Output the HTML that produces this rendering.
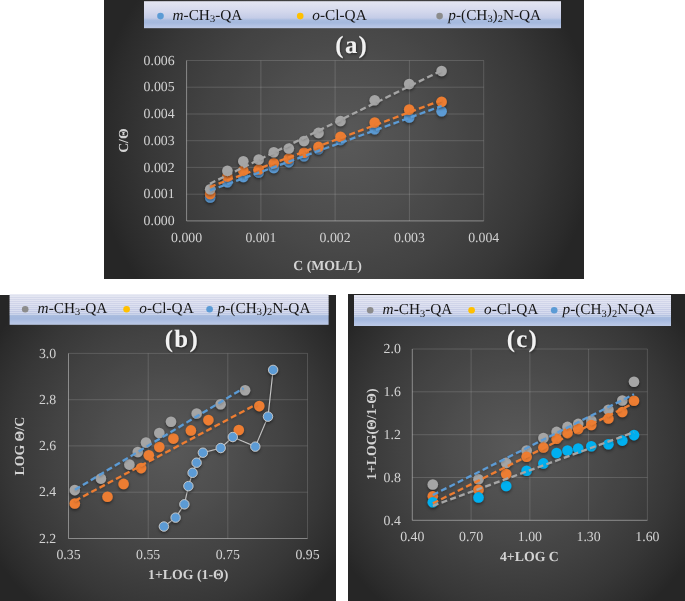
<!DOCTYPE html>
<html><head><meta charset="utf-8"><title>chart</title>
<style>
html,body{margin:0;padding:0;background:#fff;}
body{width:685px;height:601px;position:relative;overflow:hidden;font-family:"Liberation Serif",serif;}
.p{position:absolute;}
#pa{left:104px;top:0;width:480px;height:279px;background:radial-gradient(circle farthest-corner at 50% 50%,rgb(89,89,89) 0%,rgb(87,87,87) 5%,rgb(85,85,85) 10%,rgb(83,83,83) 15%,rgb(81,81,81) 20%,rgb(79,79,79) 25%,rgb(77,77,77) 30%,rgb(74,74,74) 35%,rgb(72,72,72) 40%,rgb(69,69,69) 45%,rgb(67,67,67) 50%,rgb(64,64,64) 55%,rgb(61,61,61) 60%,rgb(58,58,58) 65%,rgb(55,55,55) 70%,rgb(51,51,51) 75%,rgb(47,47,47) 80%,rgb(43,43,43) 85%,rgb(38,38,38) 90%,rgb(38,38,38) 95%,rgb(38,38,38) 100%);}
#pb{left:0;top:295px;width:336px;height:306px;background:radial-gradient(circle farthest-corner at 50% 50%,rgb(89,89,89) 0%,rgb(87,87,87) 5%,rgb(85,85,85) 10%,rgb(83,83,83) 15%,rgb(81,81,81) 20%,rgb(79,79,79) 25%,rgb(77,77,77) 30%,rgb(74,74,74) 35%,rgb(72,72,72) 40%,rgb(69,69,69) 45%,rgb(67,67,67) 50%,rgb(64,64,64) 55%,rgb(61,61,61) 60%,rgb(58,58,58) 65%,rgb(55,55,55) 70%,rgb(51,51,51) 75%,rgb(47,47,47) 80%,rgb(43,43,43) 85%,rgb(38,38,38) 90%,rgb(38,38,38) 95%,rgb(38,38,38) 100%);}
#pc{left:348px;top:294px;width:337px;height:307px;background:radial-gradient(circle farthest-corner at 50% 50%,rgb(89,89,89) 0%,rgb(87,87,87) 5%,rgb(85,85,85) 10%,rgb(83,83,83) 15%,rgb(81,81,81) 20%,rgb(79,79,79) 25%,rgb(77,77,77) 30%,rgb(74,74,74) 35%,rgb(72,72,72) 40%,rgb(69,69,69) 45%,rgb(67,67,67) 50%,rgb(64,64,64) 55%,rgb(61,61,61) 60%,rgb(58,58,58) 65%,rgb(55,55,55) 70%,rgb(51,51,51) 75%,rgb(47,47,47) 80%,rgb(43,43,43) 85%,rgb(38,38,38) 90%,rgb(38,38,38) 95%,rgb(38,38,38) 100%);}
svg{position:absolute;left:0;top:0;opacity:0.999;}
</style></head><body>
<div class="p" id="pa"></div><div class="p" id="pb"></div><div class="p" id="pc"></div>
<svg width="685" height="601" viewBox="0 0 685 601">
<defs>
<filter id="sh" filterUnits="userSpaceOnUse" x="0" y="0" width="685" height="601"><feDropShadow dx="0" dy="1.6" stdDeviation="1.4" flood-color="#000" flood-opacity="0.45"/></filter>
<filter id="sh2" filterUnits="userSpaceOnUse" x="0" y="0" width="685" height="601"><feDropShadow dx="0" dy="1.2" stdDeviation="1.2" flood-color="#000" flood-opacity="0.22"/></filter>
<pattern id="st" width="8" height="2.04" patternUnits="userSpaceOnUse"><rect width="8" height="1" fill="#fff" opacity="0.28"/><rect y="1" width="8" height="1.04" fill="#5a6a9a" opacity="0.07"/></pattern>
<filter id="tsh" filterUnits="userSpaceOnUse" x="0" y="0" width="685" height="601"><feDropShadow dx="0.8" dy="1.2" stdDeviation="1" flood-color="#000" flood-opacity="0.45"/></filter>
<linearGradient id="lg" x1="0" y1="0" x2="0" y2="1"><stop offset="0" stop-color="#e4e6f2"/><stop offset="0.35" stop-color="#d5d9ed"/><stop offset="0.62" stop-color="#c4cce7"/><stop offset="0.70" stop-color="#a9bcdf"/><stop offset="0.80" stop-color="#a5b9de"/><stop offset="0.9" stop-color="#b1c1e3"/><stop offset="1" stop-color="#bcc9e6"/></linearGradient>
<linearGradient id="lg2" x1="0" y1="0" x2="0" y2="1"><stop offset="0" stop-color="#e4e6f2"/><stop offset="0.35" stop-color="#d5d9ed"/><stop offset="0.62" stop-color="#c4cce7"/><stop offset="0.70" stop-color="#a9bcdf"/><stop offset="0.80" stop-color="#a5b9de"/><stop offset="0.9" stop-color="#b1c1e3"/><stop offset="1" stop-color="#bcc9e6"/></linearGradient>
</defs>
<g stroke="rgba(255,255,255,0.15)" stroke-width="1"><line x1="260.9" y1="60.5" x2="260.9" y2="220.9"/><line x1="335.1" y1="60.5" x2="335.1" y2="220.9"/><line x1="409.4" y1="60.5" x2="409.4" y2="220.9"/><line x1="483.7" y1="60.5" x2="483.7" y2="220.9"/><line x1="186.6" y1="60.5" x2="483.7" y2="60.5"/><line x1="186.6" y1="87.2" x2="483.7" y2="87.2"/><line x1="186.6" y1="114.0" x2="483.7" y2="114.0"/><line x1="186.6" y1="140.7" x2="483.7" y2="140.7"/><line x1="186.6" y1="167.4" x2="483.7" y2="167.4"/><line x1="186.6" y1="194.2" x2="483.7" y2="194.2"/></g><g stroke="rgba(255,255,255,0.4)" stroke-width="1"><line x1="186.6" y1="60.5" x2="186.6" y2="220.9"/><line x1="186.6" y1="220.9" x2="483.7" y2="220.9"/></g><g font-family="Liberation Serif, serif" text-rendering="geometricPrecision" font-size="13.8" fill="#d3d3d3"><text x="186.6" y="241.5" text-anchor="middle">0.000</text><text x="260.9" y="241.5" text-anchor="middle">0.001</text><text x="335.1" y="241.5" text-anchor="middle">0.002</text><text x="409.4" y="241.5" text-anchor="middle">0.003</text><text x="483.7" y="241.5" text-anchor="middle">0.004</text><text x="174.6" y="64.7" text-anchor="end">0.006</text><text x="174.6" y="91.4" text-anchor="end">0.005</text><text x="174.6" y="118.2" text-anchor="end">0.004</text><text x="174.6" y="144.9" text-anchor="end">0.003</text><text x="174.6" y="171.6" text-anchor="end">0.002</text><text x="174.6" y="198.3" text-anchor="end">0.001</text><text x="174.6" y="225.1" text-anchor="end">0.000</text></g><g fill="#5b9bd5" filter="url(#sh)"><circle cx="210.2" cy="197.5" r="5.3"/><circle cx="227.4" cy="182.2" r="5.3"/><circle cx="243.3" cy="177.0" r="5.3"/><circle cx="258.7" cy="172.5" r="5.3"/><circle cx="273.8" cy="167.9" r="5.3"/><circle cx="288.8" cy="162.1" r="5.3"/><circle cx="304.0" cy="156.2" r="5.3"/><circle cx="318.5" cy="149.2" r="5.3"/><circle cx="340.5" cy="139.9" r="5.3"/><circle cx="374.7" cy="129.2" r="5.3"/><circle cx="409.2" cy="117.4" r="5.3"/><circle cx="441.6" cy="111.3" r="5.3"/></g><g fill="#ed7d31" filter="url(#sh)"><circle cx="210.2" cy="194.0" r="5.3"/><circle cx="227.4" cy="176.5" r="5.3"/><circle cx="243.3" cy="170.6" r="5.3"/><circle cx="258.7" cy="169.5" r="5.3"/><circle cx="273.8" cy="163.2" r="5.3"/><circle cx="288.8" cy="158.6" r="5.3"/><circle cx="304.0" cy="152.7" r="5.3"/><circle cx="318.5" cy="146.9" r="5.3"/><circle cx="340.5" cy="136.8" r="5.3"/><circle cx="374.7" cy="122.5" r="5.3"/><circle cx="409.2" cy="109.6" r="5.3"/><circle cx="441.6" cy="101.7" r="5.3"/></g><g fill="#a5a5a5" filter="url(#sh)"><circle cx="210.2" cy="189.3" r="5.3"/><circle cx="227.4" cy="170.7" r="5.3"/><circle cx="243.3" cy="161.2" r="5.3"/><circle cx="258.7" cy="159.5" r="5.3"/><circle cx="273.8" cy="152.2" r="5.3"/><circle cx="288.8" cy="148.5" r="5.3"/><circle cx="304.0" cy="141.0" r="5.3"/><circle cx="318.5" cy="132.9" r="5.3"/><circle cx="340.5" cy="121.0" r="5.3"/><circle cx="374.7" cy="100.3" r="5.3"/><circle cx="409.2" cy="84.0" r="5.3"/><circle cx="441.6" cy="71.0" r="5.3"/></g><line x1="209.9" y1="190.4" x2="441.6" y2="106.0" stroke="#5b9bd5" stroke-width="2.3" stroke-dasharray="6 3.3" filter="url(#sh2)"/><line x1="209.9" y1="186.9" x2="441.6" y2="100.2" stroke="#ed7d31" stroke-width="2.3" stroke-dasharray="6 3.3" filter="url(#sh2)"/><line x1="209.9" y1="183.7" x2="441.6" y2="70.5" stroke="#a5a5a5" stroke-width="2.3" stroke-dasharray="6 3.3" filter="url(#sh2)"/><rect x="144" y="1.2" width="417" height="27" fill="url(#lg)"/><circle cx="160.5" cy="16.1" r="3.3" fill="#5b9bd5"/><g opacity="0.999"><text x="172.5" y="20.1" font-family="Liberation Serif, serif" text-rendering="geometricPrecision" font-size="15.3" fill="#161616"><tspan font-style="italic">m</tspan>-CH<tspan font-size="10.4" dy="2.3">3</tspan><tspan dy="-2.3">-QA</tspan></text></g><circle cx="300.2" cy="16.1" r="3.3" fill="#ffc000"/><g opacity="0.999"><text x="312.3" y="20.1" font-family="Liberation Serif, serif" text-rendering="geometricPrecision" font-size="15.3" fill="#161616"><tspan font-style="italic">o</tspan>-Cl-QA</text></g><circle cx="439.6" cy="16.1" r="3.3" fill="#8c8c8c"/><g opacity="0.999"><text x="448.3" y="20.1" font-family="Liberation Serif, serif" text-rendering="geometricPrecision" font-size="15.3" fill="#161616"><tspan font-style="italic">p</tspan>-(CH<tspan font-size="10.4" dy="2.3">3</tspan><tspan dy="-2.3">)</tspan><tspan font-size="10.4" dy="2.3">2</tspan><tspan dy="-2.3">N-QA</tspan></text></g><text x="351.75" y="53" font-family="Liberation Serif, serif" text-rendering="geometricPrecision" font-size="24.8" font-weight="bold" fill="#f2f2f2" text-anchor="middle" letter-spacing="1.3" filter="url(#tsh)">(a)</text><text x="127.8" y="140.6" font-family="Liberation Serif, serif" text-rendering="geometricPrecision" font-size="13.8" font-weight="bold" fill="#d3d3d3" text-anchor="middle" transform="rotate(-90 127.8 140.6)">C/Θ</text><text x="327.6" y="269.7" font-family="Liberation Serif, serif" text-rendering="geometricPrecision" font-size="13.8" font-weight="bold" fill="#d3d3d3" text-anchor="middle">C (MOL/L)</text>
<g stroke="rgba(255,255,255,0.15)" stroke-width="1"><line x1="148.2" y1="353.4" x2="148.2" y2="538.5"/><line x1="227.8" y1="353.4" x2="227.8" y2="538.5"/><line x1="307.5" y1="353.4" x2="307.5" y2="538.5"/><line x1="68.5" y1="353.4" x2="307.5" y2="353.4"/><line x1="68.5" y1="399.7" x2="307.5" y2="399.7"/><line x1="68.5" y1="445.9" x2="307.5" y2="445.9"/><line x1="68.5" y1="492.2" x2="307.5" y2="492.2"/></g><g stroke="rgba(255,255,255,0.4)" stroke-width="1"><line x1="68.5" y1="353.4" x2="68.5" y2="538.5"/><line x1="68.5" y1="538.5" x2="307.5" y2="538.5"/></g><g font-family="Liberation Serif, serif" text-rendering="geometricPrecision" font-size="13.8" fill="#d3d3d3"><text x="68.5" y="558.7" text-anchor="middle">0.35</text><text x="148.2" y="558.7" text-anchor="middle">0.55</text><text x="227.8" y="558.7" text-anchor="middle">0.75</text><text x="307.5" y="558.7" text-anchor="middle">0.95</text><text x="56.2" y="357.6" text-anchor="end">3.0</text><text x="56.2" y="403.9" text-anchor="end">2.8</text><text x="56.2" y="450.1" text-anchor="end">2.6</text><text x="56.2" y="496.4" text-anchor="end">2.4</text><text x="56.2" y="542.7" text-anchor="end">2.2</text></g><g fill="#a5a5a5" filter="url(#sh)"><circle cx="74.8" cy="490.1" r="5.3"/><circle cx="100.9" cy="478.6" r="5.3"/><circle cx="129.4" cy="464.6" r="5.3"/><circle cx="137.8" cy="452.0" r="5.3"/><circle cx="146.0" cy="442.6" r="5.3"/><circle cx="159.3" cy="433.0" r="5.3"/><circle cx="171.0" cy="421.8" r="5.3"/><circle cx="196.7" cy="413.6" r="5.3"/><circle cx="220.6" cy="404.3" r="5.3"/><circle cx="245.1" cy="390.2" r="5.3"/></g><g fill="#ed7d31" filter="url(#sh)"><circle cx="74.8" cy="503.5" r="5.3"/><circle cx="107.5" cy="496.7" r="5.3"/><circle cx="123.6" cy="483.9" r="5.3"/><circle cx="141.1" cy="468.1" r="5.3"/><circle cx="148.8" cy="455.2" r="5.3"/><circle cx="159.3" cy="447.0" r="5.3"/><circle cx="173.4" cy="438.6" r="5.3"/><circle cx="190.9" cy="430.4" r="5.3"/><circle cx="208.4" cy="420.1" r="5.3"/><circle cx="238.8" cy="430.0" r="5.3"/><circle cx="259.3" cy="406.1" r="5.3"/></g><line x1="74.9" y1="489.8" x2="243.6" y2="388.2" stroke="#5b9bd5" stroke-width="2.3" stroke-dasharray="6 3.3" filter="url(#sh2)"/><line x1="74.9" y1="500.8" x2="256.8" y2="404.1" stroke="#ed7d31" stroke-width="2.3" stroke-dasharray="6 3.3" filter="url(#sh2)"/><polyline fill="none" stroke="#c8c8c8" stroke-width="1.05" filter="url(#sh)" points="163.9,526.5 175.6,517.6 184.4,504.3 188.4,486.1 192.6,472.8 196.6,462.7 202.9,452.7 220.7,448 232.8,437 255.3,446.6 268,416.6 273.1,369.9"/><g fill="#5b9bd5" filter="url(#sh)" stroke="#cccccc" stroke-width="0.9"><circle cx="163.9" cy="526.5" r="4.7"/><circle cx="175.6" cy="517.6" r="4.7"/><circle cx="184.4" cy="504.3" r="4.7"/><circle cx="188.4" cy="486.1" r="4.7"/><circle cx="192.6" cy="472.8" r="4.7"/><circle cx="196.6" cy="462.7" r="4.7"/><circle cx="202.9" cy="452.7" r="4.7"/><circle cx="220.7" cy="448.0" r="4.7"/><circle cx="232.8" cy="437.0" r="4.7"/><circle cx="255.3" cy="446.6" r="4.7"/><circle cx="268.0" cy="416.6" r="4.7"/><circle cx="273.1" cy="369.9" r="4.7"/></g><rect x="9.6" y="294.2" width="319" height="30.6" fill="url(#lg2)"/><rect x="9.6" y="295.7" width="319" height="20.2" fill="url(#st)"/><circle cx="25.2" cy="309.2" r="3.3" fill="#8c8c8c"/><g opacity="0.999"><text x="37.6" y="312.9" font-family="Liberation Serif, serif" text-rendering="geometricPrecision" font-size="15.3" fill="#161616"><tspan font-style="italic">m</tspan>-CH<tspan font-size="10.4" dy="2.3">3</tspan><tspan dy="-2.3">-QA</tspan></text></g><circle cx="126.6" cy="309.2" r="3.3" fill="#ffc000"/><g opacity="0.999"><text x="139.3" y="312.9" font-family="Liberation Serif, serif" text-rendering="geometricPrecision" font-size="15.3" fill="#161616"><tspan font-style="italic">o</tspan>-Cl-QA</text></g><circle cx="209.6" cy="309.2" r="3.3" fill="#5b9bd5"/><g opacity="0.999"><text x="217.6" y="312.9" font-family="Liberation Serif, serif" text-rendering="geometricPrecision" font-size="15.3" fill="#161616"><tspan font-style="italic">p</tspan>-(CH<tspan font-size="10.4" dy="2.3">3</tspan><tspan dy="-2.3">)</tspan><tspan font-size="10.4" dy="2.3">2</tspan><tspan dy="-2.3">N-QA</tspan></text></g><text x="181.85" y="347.4" font-family="Liberation Serif, serif" text-rendering="geometricPrecision" font-size="24.8" font-weight="bold" fill="#f2f2f2" text-anchor="middle" letter-spacing="1.3" filter="url(#tsh)">(b)</text><text x="24.3" y="446.2" font-family="Liberation Serif, serif" text-rendering="geometricPrecision" font-size="13.8" font-weight="bold" fill="#d3d3d3" text-anchor="middle" transform="rotate(-90 24.3 446.2)">LOG Θ/C</text><text x="188.2" y="579.3" font-family="Liberation Serif, serif" text-rendering="geometricPrecision" font-size="13.8" font-weight="bold" fill="#d3d3d3" text-anchor="middle">1+LOG (1-Θ)</text>
<g stroke="rgba(255,255,255,0.15)" stroke-width="1"><line x1="471.1" y1="349.0" x2="471.1" y2="520.3"/><line x1="529.9" y1="349.0" x2="529.9" y2="520.3"/><line x1="588.6" y1="349.0" x2="588.6" y2="520.3"/><line x1="647.4" y1="349.0" x2="647.4" y2="520.3"/><line x1="412.3" y1="349.0" x2="647.4" y2="349.0"/><line x1="412.3" y1="391.8" x2="647.4" y2="391.8"/><line x1="412.3" y1="434.7" x2="647.4" y2="434.7"/><line x1="412.3" y1="477.5" x2="647.4" y2="477.5"/></g><g stroke="rgba(255,255,255,0.4)" stroke-width="1"><line x1="412.3" y1="349.0" x2="412.3" y2="520.3"/><line x1="412.3" y1="520.3" x2="647.4" y2="520.3"/></g><g font-family="Liberation Serif, serif" text-rendering="geometricPrecision" font-size="13.8" fill="#d3d3d3"><text x="412.3" y="541" text-anchor="middle">0.40</text><text x="471.1" y="541" text-anchor="middle">0.70</text><text x="529.9" y="541" text-anchor="middle">1.00</text><text x="588.6" y="541" text-anchor="middle">1.30</text><text x="647.4" y="541" text-anchor="middle">1.60</text><text x="400.8" y="353.2" text-anchor="end">2.0</text><text x="400.8" y="396.0" text-anchor="end">1.6</text><text x="400.8" y="438.9" text-anchor="end">1.2</text><text x="400.8" y="481.7" text-anchor="end">0.8</text><text x="400.8" y="524.5" text-anchor="end">0.4</text></g><g fill="#a5a5a5" filter="url(#sh)"><circle cx="432.8" cy="484.5" r="5.3"/><circle cx="478.5" cy="479.2" r="5.3"/><circle cx="506.2" cy="462.9" r="5.3"/><circle cx="526.6" cy="450.5" r="5.3"/><circle cx="543.4" cy="438.1" r="5.3"/><circle cx="556.6" cy="431.9" r="5.3"/><circle cx="567.5" cy="426.9" r="5.3"/><circle cx="578.2" cy="423.9" r="5.3"/><circle cx="591.3" cy="420.6" r="5.3"/><circle cx="608.4" cy="409.7" r="5.3"/><circle cx="622.3" cy="400.5" r="5.3"/><circle cx="634.0" cy="381.7" r="5.3"/></g><g fill="#ed7d31" filter="url(#sh)"><circle cx="432.8" cy="496.2" r="5.3"/><circle cx="478.5" cy="489.7" r="5.3"/><circle cx="506.2" cy="474.1" r="5.3"/><circle cx="526.6" cy="456.7" r="5.3"/><circle cx="543.4" cy="447.5" r="5.3"/><circle cx="556.6" cy="438.8" r="5.3"/><circle cx="567.5" cy="433.1" r="5.3"/><circle cx="578.2" cy="428.9" r="5.3"/><circle cx="591.3" cy="425.0" r="5.3"/><circle cx="608.4" cy="418.4" r="5.3"/><circle cx="622.3" cy="412.0" r="5.3"/><circle cx="634.0" cy="400.7" r="5.3"/></g><g fill="#00b0f0" filter="url(#sh)"><circle cx="432.8" cy="502.3" r="5.3"/><circle cx="478.5" cy="497.4" r="5.3"/><circle cx="506.2" cy="486.0" r="5.3"/><circle cx="526.6" cy="470.8" r="5.3"/><circle cx="543.4" cy="463.4" r="5.3"/><circle cx="556.6" cy="453.0" r="5.3"/><circle cx="567.5" cy="450.5" r="5.3"/><circle cx="578.2" cy="448.5" r="5.3"/><circle cx="591.3" cy="446.3" r="5.3"/><circle cx="608.4" cy="444.3" r="5.3"/><circle cx="622.3" cy="440.6" r="5.3"/><circle cx="634.0" cy="435.1" r="5.3"/></g><line x1="432.8" y1="495.0" x2="634.0" y2="394.2" stroke="#5b9bd5" stroke-width="2.3" stroke-dasharray="6 3.3" filter="url(#sh2)"/><line x1="432.8" y1="503.4" x2="634.0" y2="403.0" stroke="#ed7d31" stroke-width="2.3" stroke-dasharray="6 3.3" filter="url(#sh2)"/><line x1="432.8" y1="505.8" x2="634.0" y2="432.2" stroke="#a5a5a5" stroke-width="2.3" stroke-dasharray="6 3.3" filter="url(#sh2)"/><rect x="354" y="295" width="317" height="31" fill="url(#lg2)"/><rect x="354" y="296.5" width="317" height="20.5" fill="url(#st)"/><circle cx="370.2" cy="310.2" r="3.3" fill="#8c8c8c"/><g opacity="0.999"><text x="382.6" y="314.2" font-family="Liberation Serif, serif" text-rendering="geometricPrecision" font-size="15.3" fill="#161616"><tspan font-style="italic">m</tspan>-CH<tspan font-size="10.4" dy="2.3">3</tspan><tspan dy="-2.3">-QA</tspan></text></g><circle cx="471.6" cy="310.2" r="3.3" fill="#ffc000"/><g opacity="0.999"><text x="484" y="314.2" font-family="Liberation Serif, serif" text-rendering="geometricPrecision" font-size="15.3" fill="#161616"><tspan font-style="italic">o</tspan>-Cl-QA</text></g><circle cx="554.2" cy="310.2" r="3.3" fill="#5b9bd5"/><g opacity="0.999"><text x="562.5" y="314.2" font-family="Liberation Serif, serif" text-rendering="geometricPrecision" font-size="15.3" fill="#161616"><tspan font-style="italic">p</tspan>-(CH<tspan font-size="10.4" dy="2.3">3</tspan><tspan dy="-2.3">)</tspan><tspan font-size="10.4" dy="2.3">2</tspan><tspan dy="-2.3">N-QA</tspan></text></g><text x="522.35" y="347.3" font-family="Liberation Serif, serif" text-rendering="geometricPrecision" font-size="24.8" font-weight="bold" fill="#f2f2f2" text-anchor="middle" letter-spacing="1.3" filter="url(#tsh)">(c)</text><text x="376.3" y="434.2" font-family="Liberation Serif, serif" text-rendering="geometricPrecision" font-size="13.8" font-weight="bold" fill="#d3d3d3" text-anchor="middle" transform="rotate(-90 376.3 434.2)">1+LOG(Θ/1-Θ)</text><text x="529.4" y="561.4" font-family="Liberation Serif, serif" text-rendering="geometricPrecision" font-size="13.8" font-weight="bold" fill="#d3d3d3" text-anchor="middle">4+LOG C</text>
</svg>
</body></html>
